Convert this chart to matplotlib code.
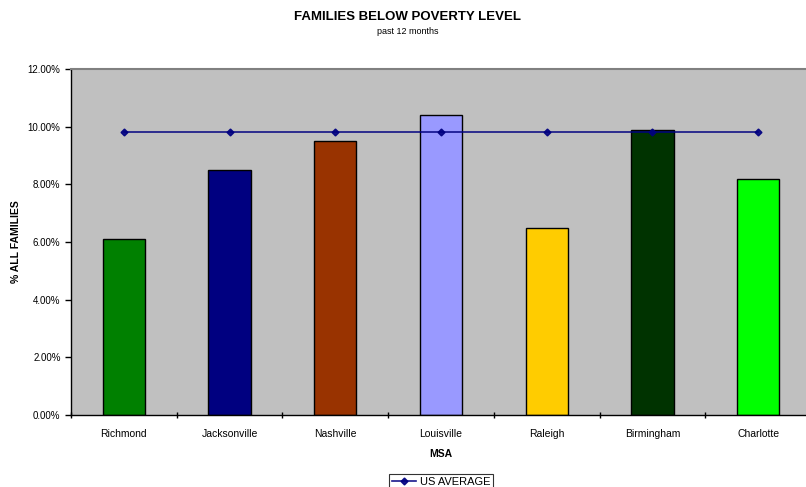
import matplotlib.pyplot as plt
import numpy as np

plt.rcParams['font.family'] = ['Liberation Sans', 'DejaVu Sans']

cities = ["Richmond", "Jacksonville", "Nashville", "Louisville", "Raleigh", "Birmingham", "Charlotte"]
families_pct = [6.1, 8.5, 9.5, 10.4, 6.5, 9.9, 8.2]
us_average = [9.8, 9.8, 9.8, 9.8, 9.8, 9.8, 9.8]
bar_colors = ["#008000", "#000080", "#993300", "#9999FF", "#FFCC00", "#003300", "#00FF00"]

fig = plt.figure(figsize=(8.06, 4.87), dpi=100)
# plot area runs off the right edge like in the original
ax = fig.add_axes([71/806, 1 - 415/487, (811 - 71)/806, (415 - 69)/487])
ax.set_facecolor("#C0C0C0")

x = np.arange(len(cities))
ax.bar(x, families_pct, width=0.4, color=bar_colors, edgecolor="black", linewidth=1, zorder=2)
ax.plot(x, us_average, color="#000080", marker="D", markersize=3.5, linewidth=1.2, alpha=0.9,
        label="US AVERAGE", zorder=3)

ax.set_xlim(-0.5, len(cities) - 0.5)
ax.set_ylim(0, 12)
ax.set_yticks(np.arange(0, 12.1, 2))
ax.set_yticklabels([f"{v:.2f}%" for v in np.arange(0, 12.1, 2)])
ax.set_xticks(x)
ax.set_xticklabels(cities)
ax.set_xticks(np.arange(-0.5, len(cities)), minor=True)
ax.tick_params(axis="x", which="major", length=0, labelsize=7.5, pad=10)
ax.tick_params(axis="x", which="minor", length=4, direction="inout", width=1)
ax.tick_params(axis="y", labelsize=7, length=4, direction="out", width=1)

for side in ["left", "bottom"]:
    ax.spines[side].set_color("black")
    ax.spines[side].set_linewidth(1)
ax.spines["top"].set_color("#808080")
ax.spines["top"].set_linewidth(1.5)
ax.spines["right"].set_visible(False)

ax.set_xlabel("MSA", fontsize=7.5, fontweight="bold", labelpad=7)
ax.set_ylabel("% ALL FAMILIES", fontsize=7.5, fontweight="bold", labelpad=5)

fig.text(408/806, 1 - 17.5/487, "FAMILIES BELOW POVERTY LEVEL", ha="center", va="center",
         fontsize=9.5, fontweight="bold")
fig.text(408/806, 1 - 32/487, "past 12 months", ha="center", va="center", fontsize=6.5)

leg = fig.legend(loc="upper center", bbox_to_anchor=(441/806, 1 - 468/487), fontsize=8,
                 frameon=True, fancybox=False, handlelength=2.2, borderpad=0.3,
                 handletextpad=0.3)
leg.get_frame().set_edgecolor("black")
leg.get_frame().set_linewidth(0.8)

fig.savefig("out.png", dpi=100)
